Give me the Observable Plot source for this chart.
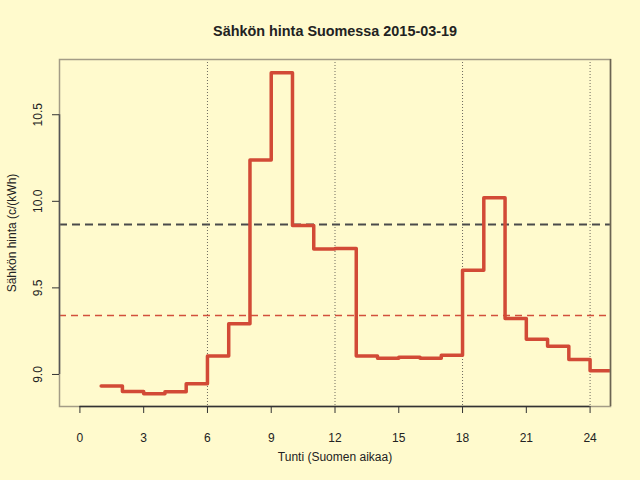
<!DOCTYPE html>
<html>
<head>
<meta charset="utf-8">
<script src="https://cdn.jsdelivr.net/npm/d3@7"></script>
<script src="https://cdn.jsdelivr.net/npm/@observablehq/plot@0.6"></script>
<style>
  html, body { margin: 0; padding: 0; background: #FFFACD; }
  svg { display: block; }
</style>
</head>
<body>
<div id="chart"></div>
<script>
const title = "Sähkön hinta Suomessa 2015-03-19";
const xLabel = "Tunti (Suomen aikaa)";
const yLabel = "Sähkön hinta (c/(kWh)";
const hours = [1,2,3,4,5,6,7,8,9,10,11,12,13,14,15,16,17,18,19,20,21,22,23,24];
const prices = [8.933,8.902,8.889,8.900,8.946,9.106,9.293,10.239,10.743,9.860,9.725,9.727,
                9.106,9.094,9.100,9.094,9.111,9.602,10.021,9.323,9.204,9.163,9.087,9.021];
const refHigh = [9.866];
const refLow = [9.340];
const gridHours = [6,12,18,24];
const xTicks = [0,3,6,9,12,15,18,21,24];
const yTicks = [9.0,9.5,10.0,10.5];

// step line: each hour's price holds until the next hour
const stepData = hours.map((h, i) => ({x: h, y: prices[i]}));
stepData.push({x: hours[hours.length - 1] + 1, y: prices[prices.length - 1]});

const font = "'Liberation Sans', Arial, Helvetica, sans-serif";
const ink = "#222222";

const chart = Plot.plot({
  width: 640,
  height: 480,
  marginLeft: 59,
  marginRight: 30,
  marginTop: 59,
  marginBottom: 74,
  style: {background: "#FFFACD", fontFamily: font, color: ink},
  x: {domain: [-0.96, 24.96]},
  y: {domain: [8.815, 10.819]},
  marks: [
    Plot.ruleX(gridHours, {stroke: "#6e6a5e", strokeWidth: 1, strokeDasharray: "1,2"}),
    Plot.ruleY(refHigh, {stroke: "#4a4a4a", strokeWidth: 2, strokeDasharray: "8,5"}),
    Plot.ruleY(refLow, {stroke: "#d2503c", strokeWidth: 1.5, strokeDasharray: "7,5"}),
    Plot.line(stepData, {x: "x", y: "y", curve: "step-after", stroke: "#d24a36", strokeWidth: 3.5, clip: true}),
    Plot.frame({stroke: "#a39c86", strokeWidth: 1.5}),
    Plot.ruleX([24.96], {stroke: "#6b6452", strokeWidth: 1.5}),
    Plot.ruleY([xTicks[0]], {x1: xTicks[0], x2: xTicks[xTicks.length - 1], y: 8.815, stroke: "#333", strokeWidth: 1.5}),
    Plot.ruleX([-0.96], {y1: yTicks[0], y2: yTicks[yTicks.length - 1], stroke: "#555", strokeWidth: 1.5}),
    Plot.axisX(xTicks, {tickSize: 7, tickPadding: 20, fontSize: 12, stroke: "#333", fill: ink, label: null, tickFormat: d => String(d)}),
    Plot.axisY(yTicks, {tickSize: 7, text: null, stroke: "#333", label: null}),
    Plot.text(yTicks, {y: d => d, text: d => d.toFixed(1), frameAnchor: "left", dx: -21, rotate: -90, textAnchor: "middle", lineAnchor: "middle", fontSize: 12, fill: ink}),
    Plot.text([title], {frameAnchor: "top", dy: -28, lineAnchor: "middle", textAnchor: "middle", fontSize: 14.4, fontWeight: "bold", fill: ink}),
    Plot.text([xLabel], {frameAnchor: "bottom", dy: 51, lineAnchor: "middle", textAnchor: "middle", fontSize: 12, fill: ink}),
    Plot.text([yLabel], {frameAnchor: "left", dx: -47, rotate: -90, textAnchor: "middle", lineAnchor: "middle", fontSize: 12, fill: ink})
  ]
});
document.getElementById("chart").appendChild(chart);
</script>
</body>
</html>
